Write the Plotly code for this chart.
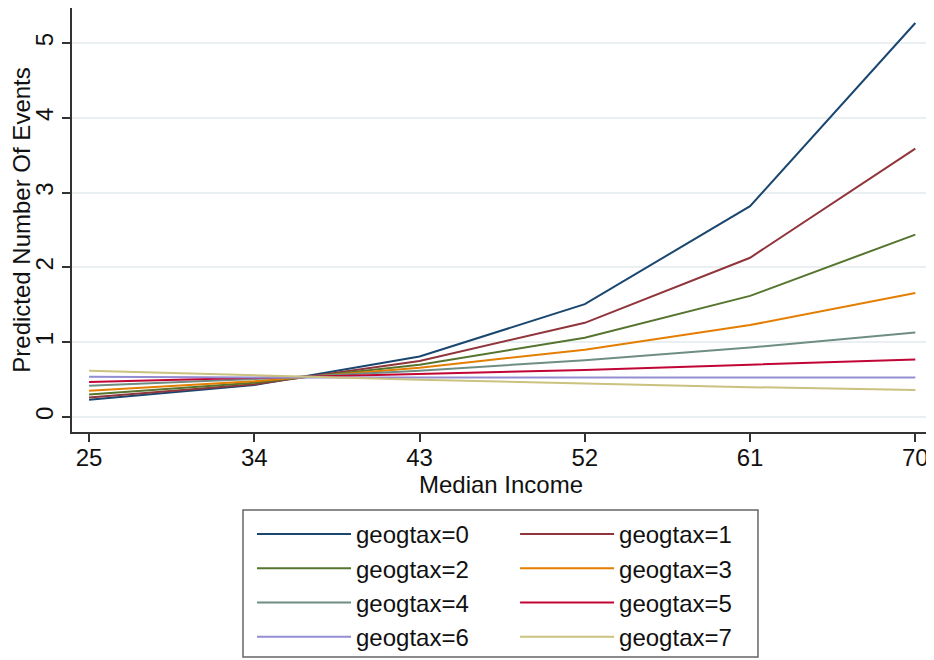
import plotly.graph_objects as go

income = [25, 34, 43, 52, 61, 70]
series_names = ["geogtax=0", "geogtax=1", "geogtax=2", "geogtax=3",
                "geogtax=4", "geogtax=5", "geogtax=6", "geogtax=7"]
g0 = [0.23, 0.43, 0.81, 1.51, 2.82, 5.27]
g1 = [0.26, 0.44, 0.75, 1.26, 2.13, 3.59]
g2 = [0.30, 0.46, 0.70, 1.06, 1.62, 2.44]
g3 = [0.35, 0.48, 0.66, 0.90, 1.23, 1.66]
g4 = [0.42, 0.51, 0.62, 0.76, 0.93, 1.13]
g5 = [0.47, 0.52, 0.57, 0.63, 0.70, 0.77]
g6 = [0.54, 0.53, 0.53, 0.53, 0.53, 0.53]
g7 = [0.62, 0.56, 0.50, 0.45, 0.40, 0.36]
values = [g0, g1, g2, g3, g4, g5, g6, g7]
colors = ["#1a476f", "#90353b", "#55752f", "#e37e00",
          "#6e8e84", "#c10534", "#938dd2", "#cac27e"]
x_ticks = [25, 34, 43, 52, 61, 70]
y_ticks = [0, 1, 2, 3, 4, 5]

FONT = "Liberation Sans, Arial, sans-serif"
FS = 24

fig = go.Figure()
for i, (name, vals, col) in enumerate(zip(series_names, values, colors)):
    fig.add_trace(go.Scatter(x=income, y=vals, mode="lines", name=name,
                             line=dict(color=col, width=2),
                             legend="legend" if i % 2 == 0 else "legend2"))

leg_common = dict(
    orientation="v", yanchor="top", xanchor="left",
    borderwidth=0, bgcolor="rgba(0,0,0,0)", itemwidth=94,
    font=dict(family=FONT, size=FS, color="#111"), traceorder="normal",
)

# page has an 8px body margin, so the figure is 926x652 shifted by 8px
fig.update_layout(
    width=926, height=652,
    margin=dict(l=64, r=4, t=0, b=228),
    paper_bgcolor="white", plot_bgcolor="white",
    font=dict(family=FONT, size=FS, color="#111"),
    showlegend=True,
    legend=dict(x=0.2098, y=-0.1887, **leg_common),
    legend2=dict(x=0.5164, y=-0.1887, **leg_common),
    shapes=[dict(type="rect", xref="paper", yref="paper",
                 x0=0.1993, x1=0.7995, y0=-0.184, y1=-0.5307,
                 line=dict(color="#666", width=1.5), layer="below")],
)
fig.update_xaxes(
    range=[24.07, 70.8], tickvals=x_ticks, ticktext=[str(t) for t in x_ticks],
    showgrid=False, zeroline=False, showline=True, linecolor="#333", linewidth=1.5,
    ticks="outside", ticklen=8, tickcolor="#333", tickwidth=1.5,
    tickfont=dict(size=FS), automargin=False, ticklabelstandoff=-5,
    title=dict(text="Median Income", font=dict(size=FS), standoff=6),
)
fig.update_yaxes(
    range=[-0.2, 5.47], tickvals=y_ticks, ticktext=[str(t) for t in y_ticks],
    showgrid=True, gridcolor="#eaf0f1", gridwidth=1.5, zeroline=False,
    showline=True, linecolor="#333", linewidth=1.5,
    ticks="outside", ticklen=8, tickcolor="#333", tickwidth=1.5,
    tickangle=-90, tickfont=dict(size=FS), automargin=False,
    title=dict(text="Predicted Number Of Events", font=dict(size=FS), standoff=6),
)

fig.write_html("out.html")
